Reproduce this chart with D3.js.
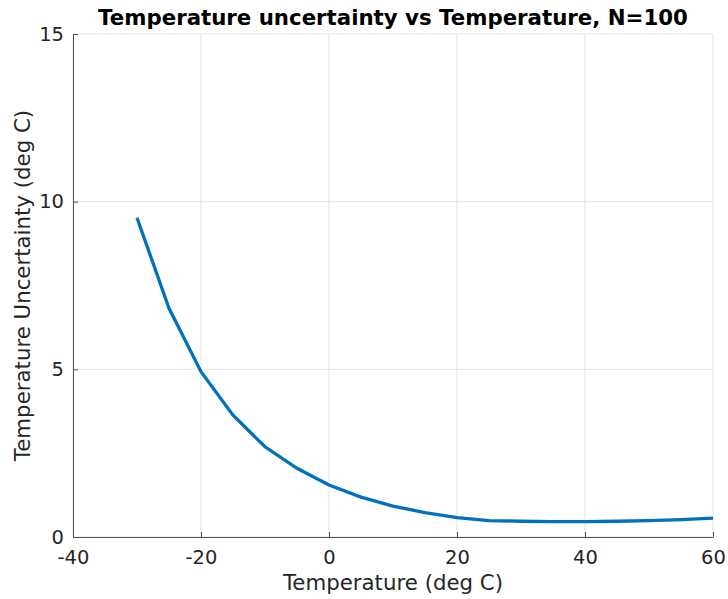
<!DOCTYPE html>
<html>
<head>
<meta charset="utf-8">
<script src="https://cdn.jsdelivr.net/npm/d3@7"></script>
<style>
  body { margin: 0; background: #fff; }
  text { font-family: "DejaVu Sans", sans-serif; fill: #262626; }
</style>
</head>
<body>
<div id="chart"></div>
<script>
var svgWidth = 728;
var svgHeight = 599;

var margin = { top: 34, right: 15, bottom: 62, left: 73 };
var width = svgWidth - margin.left - margin.right;
var height = svgHeight - margin.top - margin.bottom;

// data
var temps = [-30, -25, -20, -15, -10, -5, 0, 5, 10, 15, 20, 25, 30, 35, 40, 45, 50, 55, 60];
var uncert = [9.52, 6.82, 4.93, 3.63, 2.69, 2.05, 1.55, 1.19, 0.92, 0.73, 0.58, 0.49, 0.47, 0.46, 0.46, 0.47, 0.49, 0.52, 0.56];
var xTicks = [-40, -20, 0, 20, 40, 60];
var yTicks = [0, 5, 10, 15];

var svg = d3.select("#chart").append("svg")
  .attr("width", svgWidth)
  .attr("height", svgHeight);

var x = d3.scaleLinear().domain([-40, 60]).range([0, width]);
var y = d3.scaleLinear().domain([0, 15]).range([height, 0]);

var g = svg.append("g").attr("transform", `translate(${margin.left}, ${margin.top})`);

// grid
g.selectAll(".vgrid").data(xTicks).enter().append("line")
  .attr("x1", d => x(d)).attr("x2", d => x(d))
  .attr("y1", 0).attr("y2", height)
  .attr("stroke", "#e3e3e3").attr("stroke-width", 1);
g.selectAll(".hgrid").data(yTicks).enter().append("line")
  .attr("x1", 0).attr("x2", width)
  .attr("y1", d => y(d)).attr("y2", d => y(d))
  .attr("stroke", "#e3e3e3").attr("stroke-width", 1);

// axes, ticks pointing inward like matlab, plain hyphen for minus
var bottomAxis = d3.axisBottom(x).tickValues(xTicks).tickFormat(d => String(d))
  .tickSizeInner(-5).tickSizeOuter(0).tickPadding(13);
var leftAxis = d3.axisLeft(y).tickValues(yTicks).tickFormat(d => String(d))
  .tickSizeInner(-5).tickSizeOuter(0).tickPadding(9);

var xg = g.append("g").attr("transform", `translate(0, ${height})`).call(bottomAxis);
var yg = g.append("g").call(leftAxis);

[xg, yg].forEach(function(a) {
  a.select(".domain").attr("stroke", "#555");
  a.selectAll(".tick line").attr("stroke", "#555");
  a.selectAll(".tick text").attr("font-size", 19.5).attr("font-family", "DejaVu Sans").attr("fill", "#262626");
});

// the curve
var line = d3.line().x((d, i) => x(temps[i])).y(d => y(d));
g.append("path")
  .datum(uncert)
  .attr("d", line)
  .attr("fill", "none")
  .attr("stroke", "#0072BD")
  .attr("stroke-width", 3.3);

// labels
svg.append("text")
  .attr("x", margin.left + width / 2).attr("y", 25)
  .attr("text-anchor", "middle")
  .attr("font-size", 21.3).attr("font-weight", "bold")
  .style("fill", "#000")
  .text("Temperature uncertainty vs Temperature, N=100");

svg.append("text")
  .attr("x", margin.left + width / 2).attr("y", 590)
  .attr("text-anchor", "middle")
  .attr("font-size", 21.3)
  .text("Temperature (deg C)");

svg.append("text")
  .attr("transform", "rotate(-90)")
  .attr("x", -(margin.top + height / 2)).attr("y", 30)
  .attr("text-anchor", "middle")
  .attr("font-size", 21.3)
  .text("Temperature Uncertainty (deg C)");
</script>
</body>
</html>
